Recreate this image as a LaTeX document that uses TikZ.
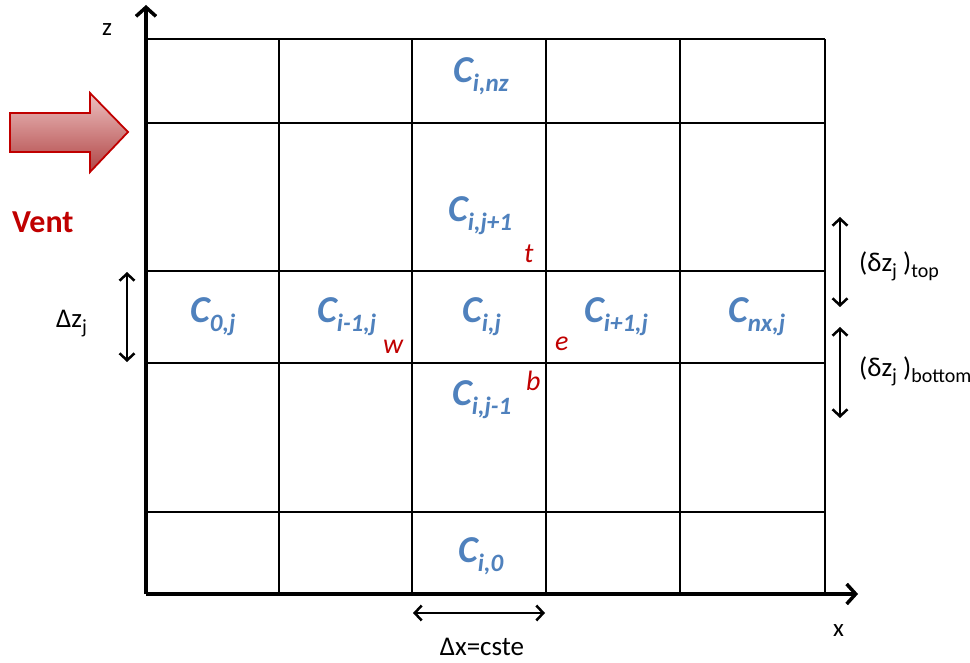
\documentclass[tikz,border=0pt]{standalone}
\usepackage{fontspec}
\setmainfont{Carlito}
\usetikzlibrary{arrows.meta}
\definecolor{cblue}{HTML}{4F81BD}
\definecolor{cred}{HTML}{C00000}
\definecolor{ventlight}{HTML}{EDC0C0}
\definecolor{ventdark}{HTML}{B04545}
\newcommand\cellC[1]{{\color{cblue}\bfseries\itshape\fontsize{38}{38}\selectfont C\raisebox{-9pt}{\fontsize{25}{25}\selectfont #1}}}
\newcommand\lsub[1]{\raisebox{-6pt}{\fontsize{20}{20}\selectfont #1}}
\tikzset{
  grid/.style={line width=1.6pt, black},
  axis/.style={line width=3.5pt, -{Straight Barb[length=9pt,width=20pt]}},
  dimarrow/.style={line width=2.5pt, {Straight Barb[length=7pt,width=15pt]}-{Straight Barb[length=7pt,width=15pt]}},
  cellname/.style={anchor=base west, inner sep=0pt},
  facename/.style={anchor=base west, inner sep=0pt, text=cred, font=\itshape\fontsize{28}{28}\selectfont},
  lbl/.style={inner sep=0pt, font=\fontsize{27}{27}\selectfont},
}
\begin{document}
\begin{tikzpicture}[x=1pt,y=-1pt]
\useasboundingbox (0,0) rectangle (970,663);
% grid
\foreach \yy in {39,123,271,363,512} \draw[grid] (146,\yy) -- (825,\yy);
\foreach \xx in {279,412,546,680,825} \draw[grid] (\xx,39) -- (\xx,594);
% axes
\coordinate (O) at (146,594);
\coordinate (ztip) at (146,5);
\coordinate (xtip) at (858,594);
\draw[axis] (O) -- (ztip);
\draw[axis] (O) -- (xtip);
\node[anchor=base west, inner sep=0pt, font=\fontsize{25}{25}\selectfont] (zlab) at (102,36) {z};
\node[anchor=base west, inner sep=0pt, font=\fontsize{25}{25}\selectfont] (xlab) at (833,636) {x};
% vent arrow
\draw[line width=1.8pt, draw=cred, top color=ventlight, bottom color=ventdark, line join=miter]
  (10,113) -- (90,113) -- (90,93) -- (128,132) -- (90,172) -- (90,152) -- (10,152) -- cycle;
\node[anchor=base west, inner sep=0pt, text=cred, font=\bfseries\fontsize{32}{32}\selectfont] (vent) at (12,233) {Vent};
% cell labels
\node[cellname] (cinz) at (453,83) {\cellC{i,nz}};
\node[cellname] (cijp) at (448,222) {\cellC{i,j+1}};
\node[cellname] (c0j) at (190,323) {\cellC{0,j}};
\node[cellname] (cimj) at (317,323) {\cellC{i-1,j}};
\node[cellname] (cij) at (462,323) {\cellC{i,j}};
\node[cellname] (cipj) at (584,323) {\cellC{i+1,j}};
\node[cellname] (cnxj) at (728,323) {\cellC{nx,j}};
\node[cellname] (cijm) at (452,405) {\cellC{i,j-1}};
\node[cellname] (ci0) at (458,562) {\cellC{i,0}};
% face letters
\node[facename] (ft) at (524,263) {t};
\node[facename] (fw) at (383,353) {w};
\node[facename] (fe) at (555,351) {e};
\node[facename] (fb) at (526,390) {b};
% dimension arrows
\coordinate (dza) at (127,272);
\coordinate (dzb) at (127,362);
\draw[dimarrow] (dza) -- (dzb);
\node[anchor=base west, lbl] (dzlab) at (56,327) {Δz\lsub{j}};
\coordinate (tta) at (840,217);
\coordinate (ttb) at (840,307);
\draw[dimarrow] (tta) -- (ttb);
\node[anchor=base west, lbl] (toplab) at (859,272) {(δz\lsub{j} )\lsub{top}};
\coordinate (bba) at (840,327);
\coordinate (bbb) at (840,418);
\draw[dimarrow] (bba) -- (bbb);
\node[anchor=base west, lbl] (botlab) at (859,376) {(δz\lsub{j} )\lsub{bottom}};
\coordinate (dxa) at (413,613);
\coordinate (dxb) at (545,613);
\draw[dimarrow] (dxa) -- (dxb);
\node[anchor=base, lbl] (dxlab) at (482,655) {Δx=cste};
\end{tikzpicture}
\end{document}
